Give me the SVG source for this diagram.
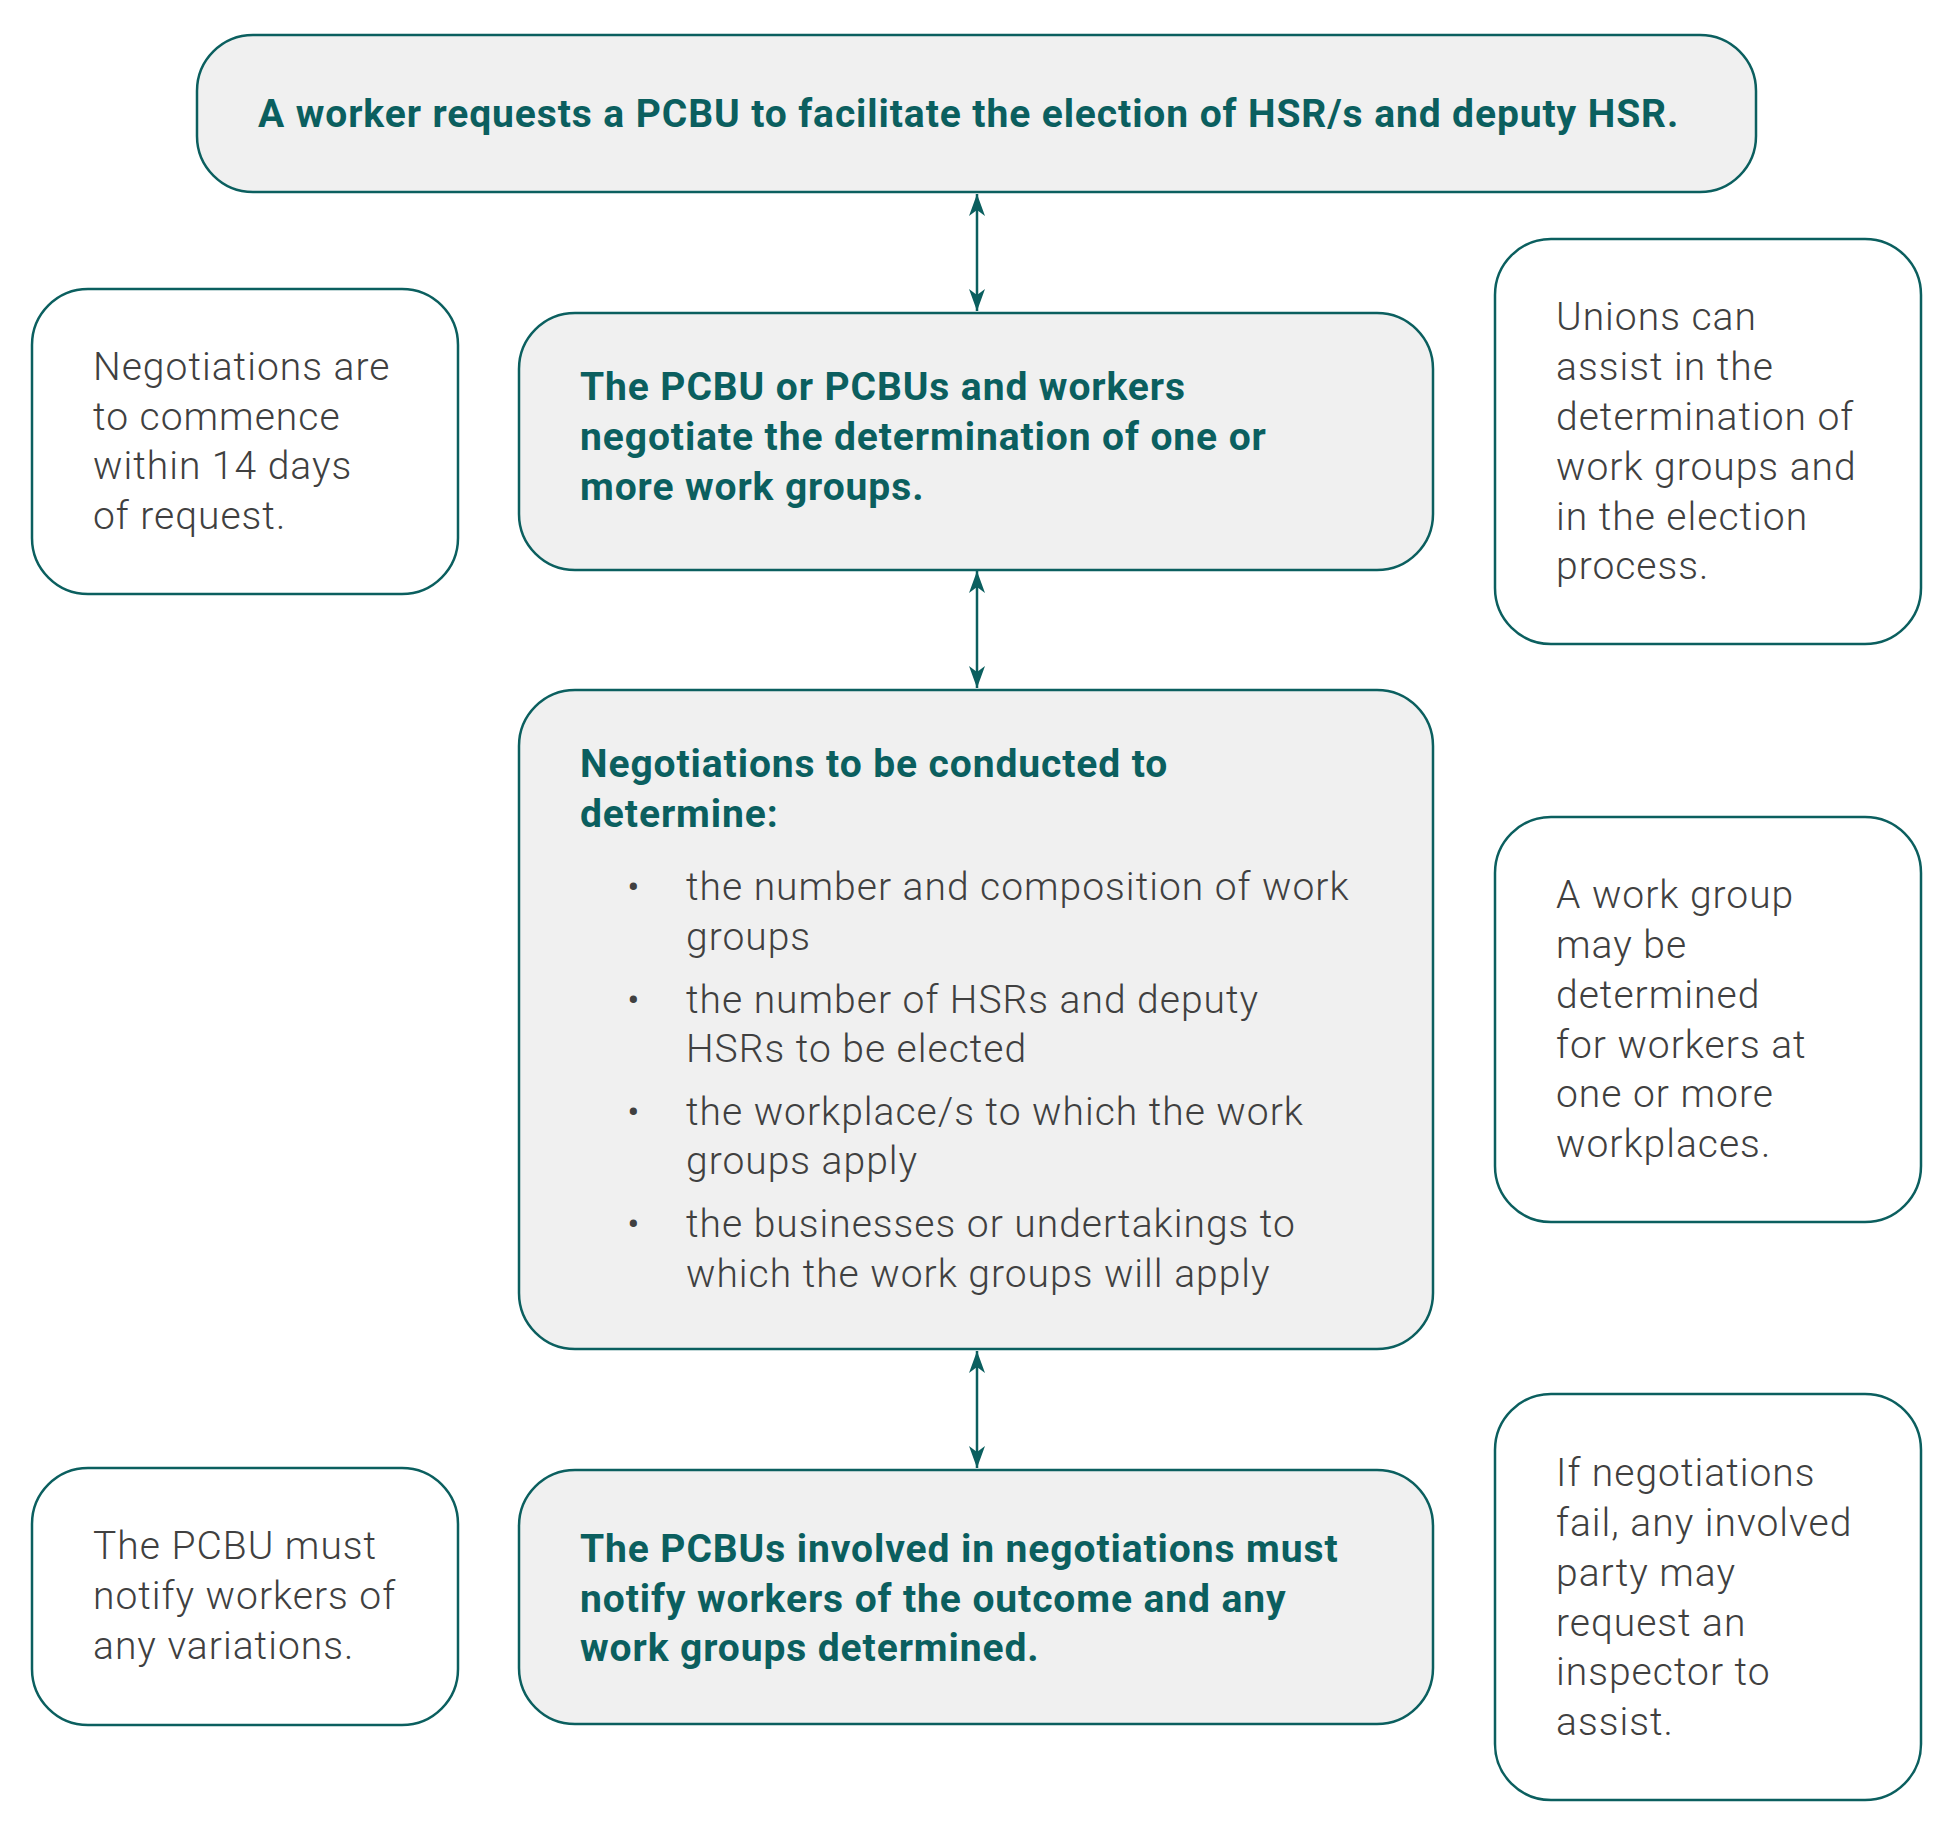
<svg xmlns="http://www.w3.org/2000/svg" width="1953" height="1836" viewBox="0 0 1953 1836">
<style>
.m{fill:#f0f0f0;stroke:#0b5f5f;stroke-width:2.5}
.s{fill:#fff;stroke:#0b5f5f;stroke-width:2.5}
.b{font-family:Roboto,"Liberation Sans",sans-serif;font-weight:700;font-size:39px;letter-spacing:0.9px;fill:#0b5f5f}
.r{font-family:Roboto,"Liberation Sans",sans-serif;font-weight:300;font-size:39px;letter-spacing:1px;fill:#404040}
.c{stroke:#0b5f5f;stroke-width:2.5;fill:none;marker-start:url(#a);marker-end:url(#a)}
</style>
<defs><marker id="a" viewBox="0 0 22 16" refX="22" refY="8" markerWidth="22" markerHeight="16" markerUnits="userSpaceOnUse" orient="auto-start-reverse"><path d="M0,0L22,8L0,16L6,8z" fill="#0b5f5f"/></marker></defs>
<g id="connectors">
<line class="c" x1="977" y1="194" x2="977" y2="311"/>
<line class="c" x1="977" y1="571" x2="977" y2="688"/>
<line class="c" x1="977" y1="1351" x2="977" y2="1468"/>
</g>
<g id="n1"><rect class="m" x="197" y="35" width="1559" height="157" rx="56"/><text class="b" x="258" y="127">A worker requests a PCBU to facilitate the election of HSR/s and deputy HSR.</text></g>
<g id="n2"><rect class="m" x="519" y="313" width="914" height="257" rx="56"/><text class="b"><tspan x="580" y="400">The PCBU or PCBUs and workers</tspan><tspan x="580" y="450">negotiate the determination of one or</tspan><tspan x="580" y="500">more work groups.</tspan></text></g>
<g id="n3"><rect class="m" x="519" y="690" width="914" height="659" rx="56"/><text class="b"><tspan x="580" y="777">Negotiations to be conducted to</tspan><tspan x="580" y="827">determine:</tspan></text>
<text class="r"><tspan x="627" y="900">•</tspan><tspan x="686" y="900">the number and composition of work</tspan><tspan x="686" y="950">groups</tspan><tspan x="627" y="1013">•</tspan><tspan x="686" y="1013">the number of HSRs and deputy</tspan><tspan x="686" y="1062">HSRs to be elected</tspan><tspan x="627" y="1125">•</tspan><tspan x="686" y="1125">the workplace/s to which the work</tspan><tspan x="686" y="1174">groups apply</tspan><tspan x="627" y="1237">•</tspan><tspan x="686" y="1237">the businesses or undertakings to</tspan><tspan x="686" y="1287">which the work groups will apply</tspan></text></g>
<g id="n4"><rect class="m" x="519" y="1470" width="914" height="254" rx="56"/><text class="b"><tspan x="580" y="1562">The PCBUs involved in negotiations must</tspan><tspan x="580" y="1612">notify workers of the outcome and any</tspan><tspan x="580" y="1661">work groups determined.</tspan></text></g>
<g id="l1"><rect class="s" x="32" y="289" width="426" height="305" rx="56"/><text class="r"><tspan x="93" y="380">Negotiations are</tspan><tspan x="93" y="430">to commence</tspan><tspan x="93" y="479">within 14 days</tspan><tspan x="93" y="529">of request.</tspan></text></g>
<g id="l2"><rect class="s" x="32" y="1468" width="426" height="257" rx="56"/><text class="r"><tspan x="93" y="1559">The PCBU must</tspan><tspan x="93" y="1609">notify workers of</tspan><tspan x="93" y="1659">any variations.</tspan></text></g>
<g id="r1"><rect class="s" x="1495" y="239" width="426" height="405" rx="56"/><text class="r"><tspan x="1556" y="330">Unions can</tspan><tspan x="1556" y="380">assist in the</tspan><tspan x="1556" y="430">determination of</tspan><tspan x="1556" y="480">work groups and</tspan><tspan x="1556" y="530">in the election</tspan><tspan x="1556" y="579">process.</tspan></text></g>
<g id="r2"><rect class="s" x="1495" y="817" width="426" height="405" rx="56"/><text class="r"><tspan x="1556" y="908">A work group</tspan><tspan x="1556" y="958">may be</tspan><tspan x="1556" y="1008">determined</tspan><tspan x="1556" y="1058">for workers at</tspan><tspan x="1556" y="1107">one or more</tspan><tspan x="1556" y="1157">workplaces.</tspan></text></g>
<g id="r3"><rect class="s" x="1495" y="1394" width="426" height="406" rx="56"/><text class="r"><tspan x="1556" y="1486">If negotiations</tspan><tspan x="1556" y="1536">fail, any involved</tspan><tspan x="1556" y="1586">party may</tspan><tspan x="1556" y="1636">request an</tspan><tspan x="1556" y="1685">inspector to</tspan><tspan x="1556" y="1735">assist.</tspan></text></g>
</svg>
